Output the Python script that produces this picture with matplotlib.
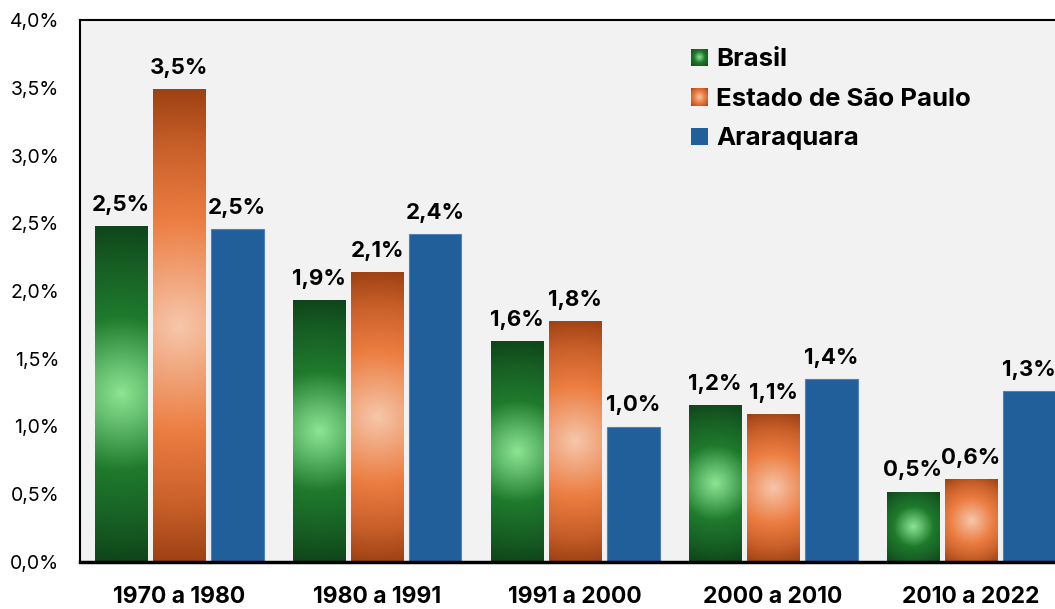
import numpy as np
import matplotlib
matplotlib.use("Agg")
import matplotlib.pyplot as plt
from matplotlib.colors import LinearSegmentedColormap
from matplotlib.patches import Patch

# ---------------- data ----------------
categories = ["1970 a 1980", "1980 a 1991", "1991 a 2000", "2000 a 2010", "2010 a 2022"]
series_names = ["Brasil", "Estado de São Paulo", "Araraquara"]
brasil = [2.48, 1.93, 1.63, 1.16, 0.52]
sao_paulo = [3.49, 2.14, 1.78, 1.09, 0.61]
araraquara = [2.46, 2.42, 1.00, 1.35, 1.26]
yticks = [0.0, 0.5, 1.0, 1.5, 2.0, 2.5, 3.0, 3.5, 4.0]
ytick_labels = ["0,0%", "0,5%", "1,0%", "1,5%", "2,0%", "2,5%", "3,0%", "3,5%", "4,0%"]

# ---------------- style ----------------
plt.rcParams["font.family"] = ["Inter", "DejaVu Sans"]
W, H = 1055, 609
green_cmap = LinearSegmentedColormap.from_list(
    "g", [(0.0, "#8ee491"), (0.2, "#5cb868"), (0.45, "#1f7a2d"), (0.75, "#175f24"), (1.0, "#0f441a")])
orange_cmap = LinearSegmentedColormap.from_list(
    "o", [(0.0, "#f6c7ab"), (0.2, "#f1a57b"), (0.45, "#ec7d41"), (0.75, "#c9602a"), (1.0, "#9d4013")])
blue = "#215f9b"

fig = plt.figure(figsize=(W / 100, H / 100), dpi=100)
fig.patch.set_facecolor("white")
ax = fig.add_axes([80 / W, 1 - 562 / H, 990 / W, 542 / H])
ax.set_facecolor("#f2f2f2")

x = np.arange(len(categories))
step = 58 / 198
width = 53 / 198
ax.set_xlim(-0.5, len(categories) - 0.5)
ax.set_ylim(0, 4.0)

bars_b = ax.bar(x - step, brasil, width, color="#1f7a2d", zorder=2)
bars_s = ax.bar(x, sao_paulo, width, color="#ec7d41", zorder=2)
bars_a = ax.bar(x + step, araraquara, width, color=blue, edgecolor="#4f82bb", linewidth=0.8, zorder=2)


def radial(pw, ph, cmap):
    nx = max(int(pw * 2), 4)
    ny = max(int(ph * 2), 4)
    xs = (np.arange(nx) + 0.5) / nx * pw - pw / 2
    ys = (np.arange(ny) + 0.5) / ny * ph - ph / 2
    X, Y = np.meshgrid(xs, ys)
    t = np.sqrt(X ** 2 + Y ** 2) / np.sqrt((pw / 2) ** 2 + (ph / 2) ** 2)
    return cmap(np.clip(t, 0, 1))


fig.canvas.draw()
for bars, cmap in [(bars_b, green_cmap), (bars_s, orange_cmap)]:
    for b in bars:
        x0, y0, bw, bh = b.get_x(), b.get_y(), b.get_width(), b.get_height()
        p0 = ax.transData.transform((x0, y0))
        p1 = ax.transData.transform((x0 + bw, y0 + bh))
        img = radial(abs(p1[0] - p0[0]), abs(p1[1] - p0[1]), cmap)
        im = ax.imshow(img, extent=(x0, x0 + bw, y0, y0 + bh), origin="lower",
                       aspect="auto", interpolation="bilinear", zorder=2.5)
        im.set_clip_path(b)
ax.set_xlim(-0.5, len(categories) - 0.5)
ax.set_ylim(0, 4.0)

# data labels
for bars, vals in [(bars_b, brasil), (bars_s, sao_paulo), (bars_a, araraquara)]:
    for b, v in zip(bars, vals):
        ax.annotate(f"{v:.1f}".replace(".", ",") + "%",
                    (b.get_x() + b.get_width() / 2, b.get_height()),
                    xytext=(0, 8), textcoords="offset points",
                    ha="center", va="bottom", fontsize=16, fontweight="bold",
                    color="black", zorder=4, annotation_clip=False)

ax.set_xticks(x)
ax.set_xticklabels(categories, fontsize=16.5, fontweight="bold")
ax.set_yticks(yticks)
ax.set_yticklabels(ytick_labels, fontsize=14)
ax.tick_params(axis="both", length=0)
ax.tick_params(axis="x", pad=17)
ax.tick_params(axis="y", pad=15)

for side in ["left", "top", "bottom", "right"]:
    ax.spines[side].set_color("black")
ax.spines["left"].set_linewidth(1.5)
ax.spines["top"].set_linewidth(1.5)
ax.spines["bottom"].set_linewidth(2.5)

handles = [Patch(facecolor="#1f7a2d"), Patch(facecolor="#ec7d41"), Patch(facecolor=blue)]
leg = ax.legend(handles, series_names, loc="upper left",
                bbox_to_anchor=(691 / W, 1 - 48.5 / H), bbox_transform=fig.transFigure,
                frameon=False, borderpad=0, borderaxespad=0, handlelength=0.66, handleheight=0.66,
                handletextpad=0.33, labelspacing=0.64,
                prop={"size": 18.5, "weight": "bold"})
leg.set_zorder(5)

fig.canvas.draw()
renderer = fig.canvas.get_renderer()
for h, cmap in zip(leg.legend_handles[:2], [green_cmap, orange_cmap]):
    bb = h.get_window_extent(renderer)
    lax = fig.add_axes([bb.x0 / W, bb.y0 / H, bb.width / W, bb.height / H])
    lax.imshow(radial(bb.width, bb.height, cmap), aspect="auto", interpolation="bilinear")
    lax.axis("off")

fig.savefig("out.png", dpi=100)
